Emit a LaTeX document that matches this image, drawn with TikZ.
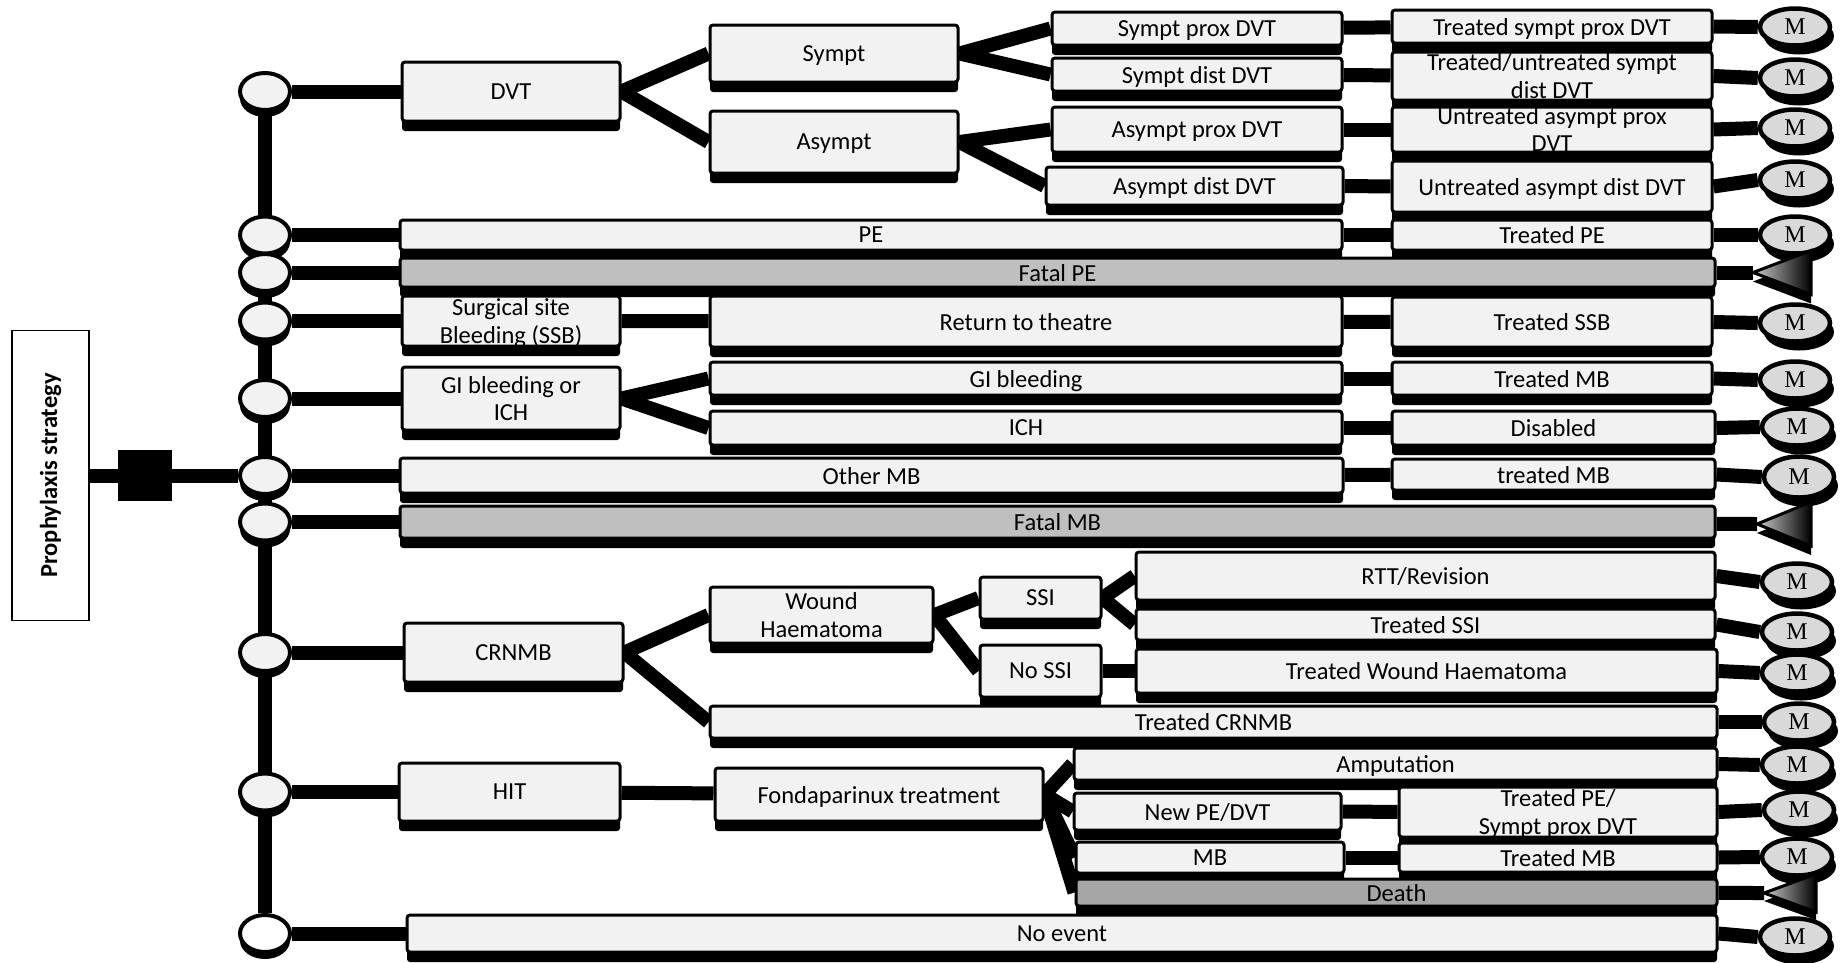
\documentclass[tikz,border=0pt]{standalone}
\usepackage{fontspec}
\setmainfont{Carlito}
\newfontfamily\markovfont{Liberation Serif}
\usetikzlibrary{shapes.geometric, shadows, backgrounds}

\definecolor{boxgray}{HTML}{F2F2F2}
\definecolor{fatalgray}{HTML}{BFBFBF}
\definecolor{deathgray}{HTML}{A6A6A6}
\definecolor{mgray}{HTML}{D9D9D9}
\newcommand{\evfont}{\fontsize{24.5}{27.5}\selectfont}

\begin{document}
\begin{tikzpicture}[x=1pt, y=-1pt,
            % Styles
            evbox/.style={rectangle, draw=black, line width=3pt, fill=boxgray, rounded corners=3pt, inner sep=0pt, align=center, text depth=0pt, font=\evfont, drop shadow={shadow xshift=0pt, shadow yshift=-10pt, opacity=1, fill=black}},
            fatal/.style={evbox, fill=fatalgray},
            dead/.style={evbox, fill=deathgray},
            boxsize/.style 2 args={minimum width=#1pt, minimum height=#2pt},
            chance/.style={ellipse, draw=black, line width=4pt, fill=boxgray, minimum width=50pt, minimum height=37pt, inner sep=0pt, drop shadow={shadow xshift=0pt, shadow yshift=-7pt, opacity=1, fill=black}},
            decision/.style={rectangle, fill=black, minimum width=54pt, minimum height=51pt, inner sep=0pt},
            stratbox/.style={rectangle, draw=black, line width=1.2pt, fill=white, inner sep=0pt, font=\bfseries\evfont},
            mnode/.style={ellipse, draw=black, line width=4.5pt, fill=mgray, minimum width=70pt, minimum height=37pt, inner sep=0pt, font=\markovfont\fontsize{24}{24}\selectfont, drop shadow={shadow xshift=4pt, shadow yshift=-9pt, opacity=1, fill=black}},
            endtri/.style={left color=black!20, right color=black, draw=black, line width=3pt},
            line/.style={draw, line width=14pt}
        ]
        \useasboundingbox (0,0) rectangle (1847,962);

        % Strategy and decision
        \node [stratbox, rotate=90, minimum width=290pt, minimum height=77pt] (prop) at (50.5,475.5) {Prophylaxis strategy};
        \node [decision] (dec) at (145,475.5) {};

        % DVT branch
        \node [evbox, boxsize={218}{59}] (dvt) at (511,91.5) {DVT};
        \node [evbox, boxsize={248}{57}] (sympt) at (834,53.5) {Sympt};
        \node [evbox, boxsize={248}{62}] (asympt) at (834,142) {Asympt};
        \node [evbox, boxsize={290}{33}] (sprox) at (1197,28.5) {Sympt prox DVT};
        \node [evbox, boxsize={290}{33}] (sdist) at (1197,74.5) {Sympt dist DVT};
        \node [evbox, boxsize={290}{45}] (aprox) at (1197,129.5) {Asympt prox DVT};
        \node [evbox, boxsize={297}{38}] (adist) at (1194.5,186) {Asympt dist DVT};
        \node [evbox, boxsize={320}{33}] (tsprox) at (1552,26.5) {Treated sympt prox DVT};
        \node [evbox, boxsize={320}{48}] (tsdist) at (1552,76) {Treated/untreated sympt\\dist DVT};
        \node [evbox, boxsize={320}{45}] (uaprox) at (1552,129.5) {Untreated asympt prox\\DVT};
        \node [evbox, boxsize={320}{51}] (uadist) at (1552,186.5) {Untreated asympt dist DVT};

        % PE
        \node [evbox, boxsize={942}{30}] (pe) at (871,235) {PE};
        \node [evbox, boxsize={320}{30}] (tpe) at (1552,235) {Treated PE};
        \node [fatal, boxsize={1315}{29}] (fpe) at (1057.5,272.5) {Fatal PE};

        % Bleeding
        \node [evbox, boxsize={218}{50}] (ssb) at (511,321) {Surgical site\\Bleeding (SSB)};
        \node [evbox, boxsize={632}{51}] (rtt) at (1026,321.5) {Return to theatre};
        \node [evbox, boxsize={320}{50}] (tssb) at (1552,322) {Treated SSB};
        \node [evbox, boxsize={218}{63}] (gich) at (511,398.5) {GI bleeding or\\ICH};
        \node [evbox, boxsize={632}{33}] (gib) at (1026,378.5) {GI bleeding};
        \node [evbox, boxsize={632}{34}] (ich) at (1026,428) {ICH};
        \node [evbox, boxsize={320}{33}] (tmbgi) at (1552,378.5) {Treated MB};
        \node [evbox, boxsize={323}{34}] (dis) at (1553.5,428) {Disabled};
        \node [evbox, boxsize={943}{35}] (omb) at (871.5,475.5) {Other MB};
        \node [evbox, boxsize={323}{31}] (tmbo) at (1553.5,474.5) {treated MB};
        \node [fatal, boxsize={1315}{32}] (fmb) at (1057.5,522) {Fatal MB};

        % CRNMB
        \node [evbox, boxsize={219}{59}] (crnmb) at (513.5,652.5) {CRNMB};
        \node [evbox, boxsize={223}{56}] (wh) at (821.5,615) {Wound\\Haematoma};
        \node [evbox, boxsize={121}{42}] (ssi) at (1040.5,598) {SSI};
        \node [evbox, boxsize={121}{52}] (nossi) at (1040.5,671) {No SSI};
        \node [evbox, boxsize={579}{48}] (rttr) at (1425.5,576) {RTT/Revision};
        \node [evbox, boxsize={579}{31}] (tssi) at (1425.5,624.5) {Treated SSI};
        \node [evbox, boxsize={581}{44}] (twh) at (1426.5,671) {Treated Wound Haematoma};
        \node [evbox, boxsize={1007}{32}] (tcrnmb) at (1213.5,722) {Treated CRNMB};

        % HIT
        \node [evbox, boxsize={221}{58}] (hit) at (509.5,792) {HIT};
        \node [evbox, boxsize={328}{53}] (fond) at (879,794.5) {Fondaparinux treatment};
        \node [evbox, boxsize={643}{32}] (amp) at (1395.5,764) {Amputation};
        \node [evbox, boxsize={267}{37}] (npe) at (1207.5,811.5) {New PE/DVT};
        \node [evbox, boxsize={268}{31}] (mb) at (1210,857.5) {MB};
        \node [evbox, boxsize={318}{50}] (tpes) at (1558,812) {Treated PE/\\Sympt prox DVT};
        \node [evbox, boxsize={318}{29}] (tmbh) at (1558,857.5) {Treated MB};
        \node [dead, boxsize={641}{27}] (death) at (1396.5,892.5) {Death};

        % No event
        \node [evbox, boxsize={1310}{37}] (noev) at (1062,933.5) {No event};

        % Chance nodes
        \node [chance] (cdvt) at (265,91.5) {};
        \node [chance] (cpe) at (265,235) {};
        \node [chance] (cfpe) at (265,272.5) {};
        \node [chance] (cssb) at (265,321) {};
        \node [chance] (cgi) at (265,398.5) {};
        \node [chance] (comb) at (265,475.5) {};
        \node [chance] (cfmb) at (265,522) {};
        \node [chance] (ccrnmb) at (265,652.5) {};
        \node [chance] (chit) at (265,792) {};
        \node [chance, fill=white] (cnoev) at (265,933.5) {};

        % Markov nodes
        \node [mnode] (mtsprox) at (1795,27) {M};
        \node [mnode] (mtsdist) at (1795,78) {M};
        \node [mnode] (muaprox) at (1795,128) {M};
        \node [mnode] (muadist) at (1795,180) {M};
        \node [mnode] (mtpe) at (1795,235) {M};
        \node [mnode] (mtssb) at (1795,323) {M};
        \node [mnode] (mtmbgi) at (1795,380) {M};
        \node [mnode] (mdis) at (1797,427) {M};
        \node [mnode, minimum height=41pt] (mtmbo) at (1799,477) {M};
        \node [mnode] (mrttr) at (1797,582) {M};
        \node [mnode] (mtssi) at (1797,632) {M};
        \node [mnode] (mtwh) at (1797,673) {M};
        \node [mnode] (mtcrnmb) at (1799,722) {M};
        \node [mnode] (mamp) at (1797,765) {M};
        \node [mnode] (mtpes) at (1799,810) {M};
        \node [mnode] (mtmbh) at (1797,857) {M};
        \node [mnode] (mnoev) at (1795,937) {M};

        % Death ends
        \coordinate (fpetip) at (1753,272.5);
        \coordinate (fmbtip) at (1757,524);
        \coordinate (deathtip) at (1764,893);
        \fill [black] ([yshift=-9pt]fpetip) -- ++(58,-22) -- ++(0,44) -- cycle;
        \shade [endtri] (fpetip) -- ++(58,-22) -- ++(0,44) -- cycle;
        \fill [black] ([yshift=-9pt]fmbtip) -- ++(54,-22) -- ++(0,44) -- cycle;
        \shade [endtri] (fmbtip) -- ++(54,-22) -- ++(0,44) -- cycle;
        \fill [black] ([yshift=-8pt]deathtip) -- ++(52,-19) -- ++(0,38) -- cycle;
        \shade [endtri] (deathtip) -- ++(52,-19) -- ++(0,38) -- cycle;

        % Edges
        \begin{scope}[on background layer]
            \path [line] (cdvt) -- (cnoev);
            \path [line] (prop.south) -- (dec) -- (comb);
            \path [line] (cdvt) -- (dvt);
            \path [line] (cpe) -- (pe);
            \path [line] (cfpe) -- (fpe);
            \path [line] (cssb) -- (ssb);
            \path [line] (cgi) -- (gich);
            \path [line] (comb) -- (omb);
            \path [line] (cfmb) -- (fmb);
            \path [line] (ccrnmb) -- (crnmb);
            \path [line] (chit) -- (hit);
            \path [line] (cnoev) -- (noev);

            \path [line] (dvt.east) -- (sympt.west);
            \path [line] (dvt.east) -- (asympt.west);
            \path [line] (sympt.east) -- (sprox.west);
            \path [line] (sympt.east) -- (sdist.west);
            \path [line] (asympt.east) -- (aprox.west);
            \path [line] (asympt.east) -- (adist.west);
            \path [line] (sprox) -- (tsprox);
            \path [line] (sdist) -- (tsdist);
            \path [line] (aprox) -- (uaprox);
            \path [line] (adist) -- (uadist);
            \path [line] (pe) -- (tpe);
            \path [line] (fpe) -- (fpetip);

            \path [line] (ssb) -- (rtt) -- (tssb);
            \path [line] (gich.east) -- (gib.west);
            \path [line] (gich.east) -- (ich.west);
            \path [line] (gib) -- (tmbgi);
            \path [line] (ich) -- (dis);
            \path [line] (omb) -- (tmbo);
            \path [line] (fmb) -- (fmbtip);

            \path [line] (crnmb.east) -- (wh.west);
            \path [line] (crnmb.east) -- (tcrnmb.west);
            \path [line] (wh.east) -- (ssi.west);
            \path [line] (wh.east) -- (nossi.west);
            \path [line] (ssi.east) -- (rttr.west);
            \path [line] (ssi.east) -- (tssi.west);
            \path [line] (nossi) -- (twh);

            \path [line] (hit) -- (fond);
            \path [line] (fond.east) -- (amp.west);
            \path [line] (fond.east) -- (npe.west);
            \path [line] (fond.east) -- (mb.west);
            \path [line] (fond.east) -- (death.west);
            \path [line] (npe) -- (tpes);
            \path [line] (mb) -- (tmbh);
            \path [line] (death) -- (deathtip);

            \path [line] (tsprox.east) -- (mtsprox.west);
            \path [line] (tsdist.east) -- (mtsdist.west);
            \path [line] (uaprox.east) -- (muaprox.west);
            \path [line] (uadist.east) -- (muadist.west);
            \path [line] (tpe.east) -- (mtpe.west);
            \path [line] (tssb.east) -- (mtssb.west);
            \path [line] (tmbgi.east) -- (mtmbgi.west);
            \path [line] (dis.east) -- (mdis.west);
            \path [line] (tmbo.east) -- (mtmbo.west);
            \path [line] (rttr.east) -- (mrttr.west);
            \path [line] (tssi.east) -- (mtssi.west);
            \path [line] (twh.east) -- (mtwh.west);
            \path [line] (tcrnmb.east) -- (mtcrnmb.west);
            \path [line] (amp.east) -- (mamp.west);
            \path [line] (tpes.east) -- (mtpes.west);
            \path [line] (tmbh.east) -- (mtmbh.west);
            \path [line] (noev.east) -- (mnoev.west);
        \end{scope}

    \end{tikzpicture}
\end{document}
